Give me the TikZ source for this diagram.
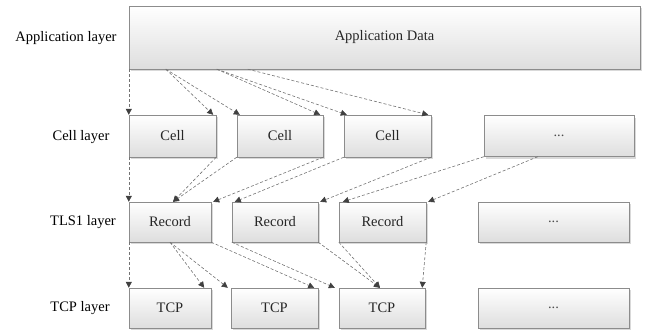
\documentclass[tikz,border=0pt]{standalone}
\usepackage{fontspec}
\setmainfont{Liberation Serif}
\usepackage{tikz}
\usetikzlibrary{arrows.meta,shadows}
\definecolor{boxline}{gray}{0.55}
\definecolor{boxshade}{gray}{0.87}
\definecolor{linkgray}{gray}{0.45}
\definecolor{tipgray}{gray}{0.25}

\begin{document}
\begin{tikzpicture}[x=1pt,y=-1pt,->,>={Triangle[length=6pt,width=6pt,color=tipgray]},font=\fontsize{14.5}{17}\selectfont]
  \tikzstyle{box}=[rectangle, draw=boxline, top color=white, bottom color=boxshade, text=black!85, minimum height=40pt, inner sep=0pt, drop shadow={shadow xshift=2pt, shadow yshift=-2pt, fill=black, opacity=0.15}]
  \tikzstyle{link}=[draw=linkgray, dash pattern=on 3pt off 2pt, line width=0.6pt]
  \useasboundingbox (0,0) rectangle (656,332);

  \node (L_a) at (66,38) {Application layer};
  \node (L_c) at (81,137) {Cell layer};
  \node (L_r) at (83,222) {TLS1 layer};
  \node (L_t) at (80,308) {TCP layer};

  \node[box, minimum width=511pt, minimum height=63pt] (a) at (384.5,37.5) {Application Data};

  \node[box, minimum width=87pt, minimum height=42pt] (C_1) at (172.5,136) {Cell};
  \node[box, minimum width=86pt, minimum height=42pt] (C_2) at (280,136) {Cell};
  \node[box, minimum width=87pt, minimum height=42pt] (C_3) at (387.5,136) {Cell};
  \node[box, minimum width=150pt, minimum height=41pt, text=black!70] (C_4) at (559,136) {...};

  \node[box, minimum width=82pt] (R_1) at (170,222) {Record};
  \node[box, minimum width=86pt] (R_2) at (275,222) {Record};
  \node[box, minimum width=87pt] (R_3) at (382.5,222) {Record};
  \node[box, minimum width=151pt, text=black!70] (R_4) at (553.5,222) {...};

  \node[box, minimum width=82pt] (T_1) at (170,308) {TCP};
  \node[box, minimum width=87pt] (T_2) at (274.5,308) {TCP};
  \node[box, minimum width=86pt] (T_3) at (382,308) {TCP};
  \node[box, minimum width=151pt, text=black!70] (T_4) at (553.5,308) {...};

  % application data -> cells
  \draw[link] (a.south west) -- (C_1.north west);
  \draw[link] ([xshift=37pt]a.south west) -- ([xshift=-3pt]C_1.north east);
  \draw[link] ([xshift=37pt]a.south west) -- ([xshift=3pt]C_2.north west);
  \draw[link] ([xshift=88pt]a.south west) -- ([xshift=-3pt]C_2.north east);
  \draw[link] ([xshift=88pt]a.south west) -- ([xshift=3pt]C_3.north west);
  \draw[link] ([xshift=119pt]a.south west) -- ([xshift=-3pt]C_3.north east);

  % cells -> records
  \draw[link] (C_1.south west) -- (R_1.north west);
  \draw[link] (C_1.south east) -- ([xshift=3pt]R_1.north);
  \draw[link] (C_2.south west) -- ([xshift=3pt]R_1.north);
  \draw[link] (C_2.south east) -- ([xshift=2pt]R_1.north east);
  \draw[link] (C_3.south west) -- ([xshift=3pt]R_2.north west);
  \draw[link] (C_3.south east) -- ([xshift=2pt]R_2.north east);
  \draw[link] (C_4.south west) -- ([xshift=4pt]R_3.north west);
  \draw[link] ([xshift=54pt]C_4.south west) -- ([xshift=2pt]R_3.north east);

  % records -> tcp segments
  \draw[link] (R_1.south west) -- (T_1.north west);
  \draw[link] (R_1.south) -- ([xshift=-7pt]T_1.north east);
  \draw[link] (R_1.south) -- ([xshift=-3pt]T_2.north west);
  \draw[link] (R_1.south east) -- ([xshift=-4pt]T_2.north east);
  \draw[link] (R_2.south west) -- ([xshift=-4pt]T_3.north west);
  \draw[link] (R_2.south east) -- ([xshift=-2pt]T_3.north);
  \draw[link] (R_3.south west) -- ([xshift=-2pt]T_3.north);
  \draw[link] (R_3.south east) -- ([xshift=-3pt]T_3.north east);
\end{tikzpicture}
\end{document}
